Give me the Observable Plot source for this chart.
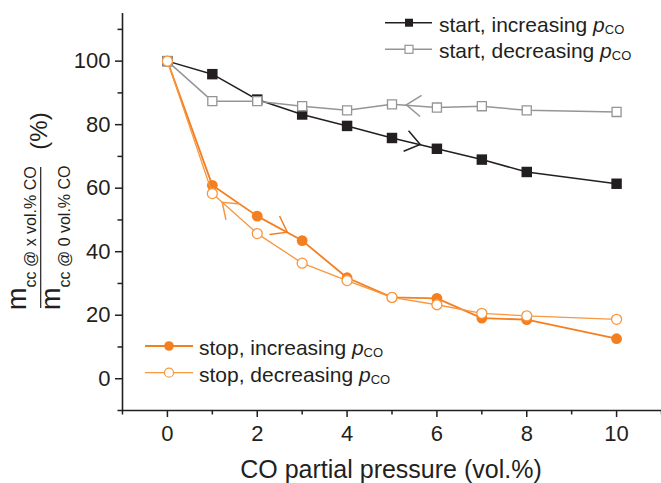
<!DOCTYPE html>
<html><head><meta charset="utf-8">
<script src="https://cdn.jsdelivr.net/npm/d3@7"></script>
<script src="https://cdn.jsdelivr.net/npm/@observablehq/plot@0.6"></script>
<style>
html,body{margin:0;padding:0;background:#fff;}
#chart{width:661px;height:483px;overflow:hidden;}
svg{font-family:"Liberation Sans",Arial,Helvetica,sans-serif;}
</style></head><body><div id="chart"></div>
<script>
// ---- data ----
const pressure = [0, 1, 2, 3, 4, 5, 6, 7, 8, 10];
const startIncreasing = [100, 95.9, 87.9, 83.2, 79.6, 75.8, 72.4, 69.0, 65.1, 61.4];
const startDecreasing = [100, 87.4, 87.4, 85.8, 84.5, 86.4, 85.4, 85.8, 84.5, 84.0];
const stopIncreasing  = [100, 60.9, 51.2, 43.5, 31.8, 25.6, 25.3, 19.1, 18.6, 12.6];
const stopDecreasing  = [100, 58.3, 45.7, 36.4, 30.9, 25.6, 23.3, 20.6, 19.8, 18.7];
const seriesNames = ["startInc", "startDec", "stopInc", "stopDec"];
const seriesLabels = ["start, increasing ", "start, decreasing ", "stop, increasing ", "stop, decreasing "];
const xMajorTicks = [0, 2, 4, 6, 8, 10];
const xMinorTicks = [-1, 1, 3, 5, 7, 9, 11];
const yMajorTicks = [0, 20, 40, 60, 80, 100];
const yMinorTicks = [-10, 10, 30, 50, 70, 90, 110];
const xTitle = "CO partial pressure (vol.%)";
// direction arrows: series, segment (from pressure -> to pressure, direction of travel), fraction along it
const arrowSeries = ["startInc", "startDec", "stopInc", "stopDec"];
const arrowFrom = [5, 6, 2, 2];
const arrowTo = [6, 5, 3, 1];
const arrowAt = [0.64, 0.67, 0.68, 0.77];

// ---- styles ----
const INK = "#231f20";
const GRAY = "#939598";
const ORANGE = "#f47f20";
const ORANGE_L = "#f7973f";
const style = {
  startInc: {stroke: INK, sw: 1.5},
  startDec: {stroke: GRAY, sw: 1.5},
  stopInc: {stroke: ORANGE, sw: 1.8},
  stopDec: {stroke: ORANGE_L, sw: 1.3}
};
const values = {startInc: startIncreasing, startDec: startDecreasing, stopInc: stopIncreasing, stopDec: stopDecreasing};
const rows = seriesNames.flatMap(s => pressure.map((p, i) => ({series: s, x: p, y: values[s][i]})));
const of = s => rows.filter(d => d.series === s);

function chevrons(index, scales) {
  const g = d3.create("svg:g").attr("fill", "none");
  arrowSeries.forEach((s, i) => {
    const ys = values[s];
    const x0 = scales.x(arrowFrom[i]), y0 = scales.y(ys[pressure.indexOf(arrowFrom[i])]);
    const x1 = scales.x(arrowTo[i]), y1 = scales.y(ys[pressure.indexOf(arrowTo[i])]);
    const t = arrowAt[i];
    const tx = x0 + t * (x1 - x0), ty = y0 + t * (y1 - y0);
    const a = Math.atan2(y0 - y1, x0 - x1);
    const L = 18, h = 36 * Math.PI / 180;
    g.append("path")
      .attr("d", `M${tx + L * Math.cos(a + h)},${ty + L * Math.sin(a + h)}L${tx},${ty}L${tx + L * Math.cos(a - h)},${ty + L * Math.sin(a - h)}`)
      .attr("stroke", style[s].stroke)
      .attr("stroke-width", 1.5);
  });
  return g.node();
}

const plot = Plot.plot({
  width: 661,
  height: 483,
  marginLeft: 122,
  marginRight: 0,
  marginTop: 13,
  marginBottom: 73,
  style: {background: "#fff", fontFamily: '"Liberation Sans", Arial, sans-serif', color: INK, overflow: "visible"},
  x: {domain: [-1, 11]},
  y: {domain: [-10, 115]},
  marks: [
    Plot.axisX({ticks: xMinorTicks, tickSize: 4.5, tickFormat: () => "", label: null, stroke: INK, strokeWidth: 1.5}),
    Plot.axisX({ticks: xMajorTicks, tickSize: 7, tickPadding: 8, label: null, stroke: INK, strokeWidth: 1.5, fontSize: 22, fill: INK}),
    Plot.axisY({ticks: yMinorTicks, tickSize: 4.5, tickFormat: () => "", label: null, stroke: INK, strokeWidth: 1.5}),
    Plot.axisY({ticks: yMajorTicks, tickSize: 7, tickPadding: 5, label: null, stroke: INK, strokeWidth: 1.5, fontSize: 22, fill: INK}),
    Plot.ruleY([-10], {stroke: INK, strokeWidth: 1.6}),
    Plot.ruleX([-1], {stroke: INK, strokeWidth: 1.6}),
    Plot.line(of("startInc"), {x: "x", y: "y", stroke: style.startInc.stroke, strokeWidth: style.startInc.sw}),
    Plot.dot(of("startInc"), {x: "x", y: "y", symbol: "square", r: 5.9, fill: INK, stroke: "none"}),
    Plot.line(of("startDec"), {x: "x", y: "y", stroke: style.startDec.stroke, strokeWidth: style.startDec.sw}),
    Plot.dot(of("startDec"), {x: "x", y: "y", symbol: "square", r: 5.1, fill: "#fff", stroke: GRAY, strokeWidth: 1.3}),
    Plot.line(of("stopInc"), {x: "x", y: "y", stroke: style.stopInc.stroke, strokeWidth: style.stopInc.sw}),
    Plot.dot(of("stopInc"), {x: "x", y: "y", r: 5.4, fill: ORANGE, stroke: "none"}),
    Plot.line(of("stopDec"), {x: "x", y: "y", stroke: style.stopDec.stroke, strokeWidth: style.stopDec.sw}),
    Plot.dot(of("stopDec"), {x: "x", y: "y", r: 5, fill: "#fff", stroke: ORANGE_L, strokeWidth: 1.3}),
    chevrons
  ]
});
document.getElementById("chart").appendChild(plot);

const svg = d3.select(plot);
const FONT = '"Liberation Sans", Arial, Helvetica, sans-serif';

// x title
svg.append("text").attr("x", 391).attr("y", 478).attr("text-anchor", "middle")
  .attr("font-family", FONT).attr("font-size", 25).attr("fill", INK).text(xTitle);

// y title (rotated fraction)
const yl = svg.append("g").attr("font-family", FONT).attr("fill", INK).attr("text-anchor", "start");
const num = yl.append("text").attr("text-anchor", "start").attr("transform", "translate(26,310) rotate(-90)").attr("font-size", 27);
num.append("tspan").text("m");
num.append("tspan").attr("font-size", 16).attr("dy", 10).text("cc @ x vol.% CO");
const den = yl.append("text").attr("text-anchor", "start").attr("transform", "translate(60,310) rotate(-90)").attr("font-size", 27);
den.append("tspan").text("m");
den.append("tspan").attr("font-size", 16).attr("dy", 10).text("cc @ 0 vol.% CO");
yl.append("line").attr("x1", 40.7).attr("x2", 40.7).attr("y1", 167).attr("y2", 308).attr("stroke", INK).attr("stroke-width", 1.2);
yl.append("text").attr("transform", "translate(47,131) rotate(-90)").attr("text-anchor", "middle").attr("font-size", 24).text("(%)");

// legends
const legendRows = [
  {s: "startInc", y: 22.7, x1: 385, x2: 432, mx: 409, tx: 439},
  {s: "startDec", y: 49.3, x1: 385, x2: 432, mx: 409, tx: 439},
  {s: "stopInc", y: 346, x1: 145, x2: 193, mx: 169, tx: 199},
  {s: "stopDec", y: 372.7, x1: 145, x2: 193, mx: 169, tx: 199}
];
const lg = svg.append("g").attr("font-family", FONT).attr("text-anchor", "start");
legendRows.forEach((r, i) => {
  const st = style[r.s];
  lg.append("line").attr("x1", r.x1).attr("x2", r.x2).attr("y1", r.y).attr("y2", r.y)
    .attr("stroke", st.stroke).attr("stroke-width", st.sw);
  if (r.s === "startInc") lg.append("rect").attr("x", r.mx - 4).attr("y", r.y - 4).attr("width", 8).attr("height", 8).attr("fill", INK);
  if (r.s === "startDec") lg.append("rect").attr("x", r.mx - 4).attr("y", r.y - 4).attr("width", 8).attr("height", 8).attr("fill", "#fff").attr("stroke", GRAY).attr("stroke-width", 1.2);
  if (r.s === "stopInc") lg.append("circle").attr("cx", r.mx).attr("cy", r.y).attr("r", 4.8).attr("fill", ORANGE);
  if (r.s === "stopDec") lg.append("circle").attr("cx", r.mx).attr("cy", r.y).attr("r", 4.5).attr("fill", "#fff").attr("stroke", ORANGE_L).attr("stroke-width", 1.2);
  const t = lg.append("text").attr("text-anchor", "start").attr("x", r.tx).attr("y", r.y + 9).attr("font-size", 21).attr("fill", INK);
  t.append("tspan").text(seriesLabels[i]);
  t.append("tspan").attr("font-style", "italic").text("p");
  t.append("tspan").attr("font-size", 13).attr("dy", 2).text("CO");
});
</script>
</body></html>
